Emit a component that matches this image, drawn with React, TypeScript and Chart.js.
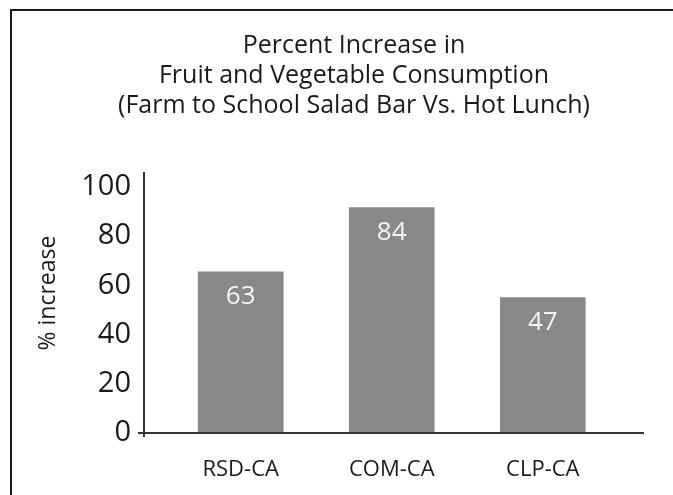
import { useEffect, useRef } from 'react';
import { Chart, registerables } from 'chart.js';

Chart.register(...registerables);

const categories = ['RSD-CA', 'COM-CA', 'CLP-CA'];
// bar heights as drawn in the picture
const barHeights = [65.5, 91.5, 55];
// value labels printed inside the bars
const valueLabels = ['63', '84', '47'];
const yTicks = [0, 20, 40, 60, 80, 100];
const yMax = 106;
const xMin = 0.36;
const xMax = 3.67;
const titleLines = [
  'Percent Increase in',
  'Fruit and Vegetable Consumption',
  '(Farm to School Salad Bar Vs. Hot Lunch)',
];
const yAxisTitle = '% increase';

const FONT = '"Open Sans", sans-serif';
const INK = '#1a1a1a';

const decor = {
  id: 'decor',
  afterDraw(chart: any) {
    const { ctx, scales } = chart;
    const xs = scales.x;
    const ys = scales.y;
    ctx.save();
    // frame
    ctx.strokeStyle = INK;
    ctx.lineWidth = 2;
    ctx.beginPath();
    ctx.moveTo(11, chart.height);
    ctx.lineTo(11, 10);
    ctx.lineTo(chart.width, 10);
    ctx.stroke();
    // title
    ctx.fillStyle = INK;
    ctx.font = `25px ${FONT}`;
    ctx.textAlign = 'center';
    ctx.textBaseline = 'alphabetic';
    titleLines.forEach((t, i) => ctx.fillText(t, 354, 53 + i * 30));
    // y axis title
    ctx.save();
    ctx.translate(48, 293);
    ctx.rotate(-Math.PI / 2);
    ctx.font = `23px ${FONT}`;
    ctx.textBaseline = 'middle';
    ctx.fillText(yAxisTitle, 0, 0);
    ctx.restore();
    // axes
    const x0 = xs.left;
    const y0 = ys.getPixelForValue(0);
    ctx.strokeStyle = '#333333';
    ctx.lineWidth = 2;
    ctx.beginPath();
    ctx.moveTo(x0 - 6, y0);
    ctx.lineTo(xs.right, y0);
    ctx.stroke();
    ctx.beginPath();
    ctx.moveTo(x0, ys.top);
    ctx.lineTo(x0, y0 + 4);
    ctx.stroke();
    // value labels
    const meta = chart.getDatasetMeta(0);
    ctx.fillStyle = '#f4f4f4';
    ctx.font = `26px ${FONT}`;
    ctx.textBaseline = 'alphabetic';
    meta.data.forEach((bar: any, i: number) => {
      ctx.fillText(valueLabels[i], bar.x, bar.y + 32);
    });
    ctx.restore();
  },
};

export default function App() {
  const ref = useRef<HTMLCanvasElement>(null);
  useEffect(() => {
    if (!ref.current) return;
    const chart = new Chart(ref.current, {
      type: 'bar',
      data: {
        datasets: [
          {
            data: categories.map((_, i) => ({ x: i + 1, y: barHeights[i] })),
            backgroundColor: '#898989',
            barThickness: 85,
          },
        ],
      },
      options: {
        animation: false,
        responsive: false,
        layout: { padding: { left: 30, right: 29, top: 172, bottom: 0 } },
        plugins: {
          legend: { display: false },
          title: { display: false },
          tooltip: { enabled: false },
        },
        scales: {
          x: {
            type: 'linear',
            offset: false,
            min: xMin,
            max: xMax,
            grid: { display: false, drawTicks: false },
            border: { display: false },
            afterBuildTicks: (s: any) => {
              s.ticks = categories.map((_, i) => ({ value: i + 1 }));
            },
            afterFit: (s: any) => {
              s.height = 62;
            },
            ticks: {
              callback: (v: any) => categories[Number(v) - 1] ?? '',
              font: { family: FONT, size: 22 },
              color: INK,
              padding: 24,
              maxRotation: 0,
              autoSkip: false,
            },
          },
          y: {
            min: 0,
            max: yMax,
            grid: { display: false, drawTicks: false },
            border: { display: false },
            afterBuildTicks: (s: any) => {
              s.ticks = yTicks.map((v) => ({ value: v }));
            },
            afterFit: (s: any) => {
              s.width = 114;
            },
            ticks: {
              font: { family: FONT, size: 29 },
              color: INK,
              padding: 13,
            },
          },
        },
      } as any,
      plugins: [decor],
    });
    return () => chart.destroy();
  }, []);
  return (
    <div style={{ position: 'fixed', left: 0, top: 0, width: 673, height: 495, background: '#fff' }}>
      <canvas ref={ref} width={673} height={495} style={{ display: 'block' }} />
    </div>
  );
}
